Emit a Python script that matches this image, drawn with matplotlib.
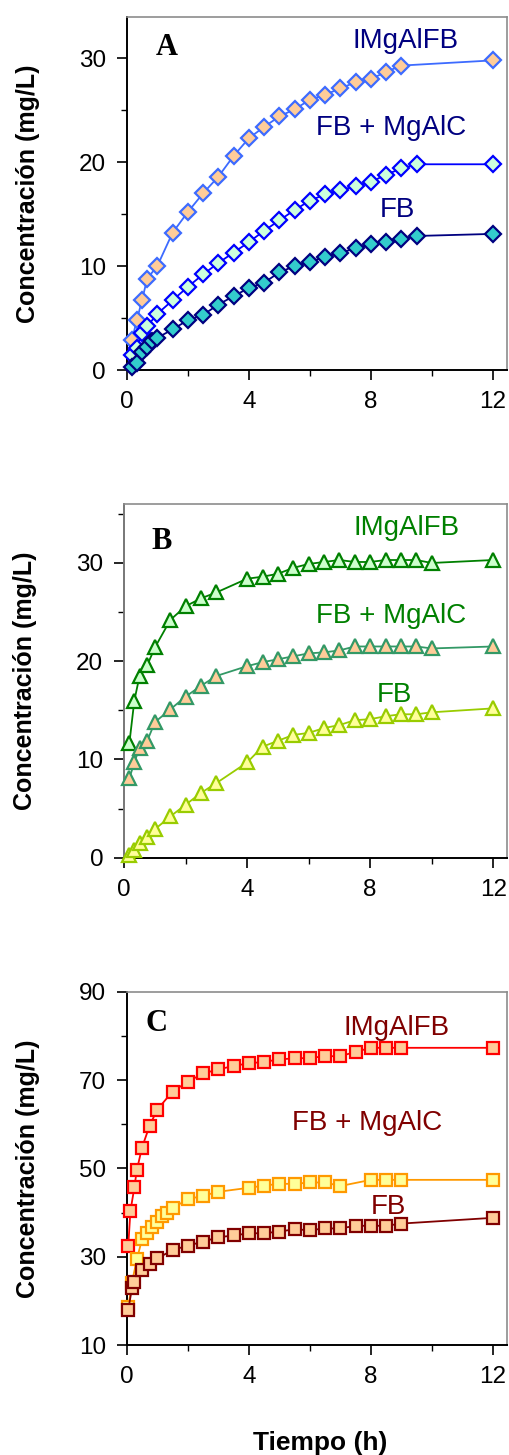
import matplotlib
matplotlib.use("Agg")
import matplotlib.pyplot as plt
from matplotlib.ticker import MultipleLocator

plt.rcParams['font.family'] = ['Liberation Sans', 'DejaVu Sans']

# Panel A (diamonds)
tA_imgal = [0.17, 0.33, 0.5, 0.67, 1, 1.5, 2, 2.5, 3, 3.5, 4, 4.5, 5, 5.5, 6, 6.5, 7, 7.5, 8, 8.5, 9, 12]
cA_imgal = [2.9, 4.8, 6.7, 8.8, 10.0, 13.2, 15.2, 17.0, 18.6, 20.6, 22.3, 23.4, 24.4, 25.1, 26.0, 26.5, 27.1, 27.7, 28.0, 28.7, 29.3, 29.8]
tA_mix = [0.17, 0.33, 0.5, 0.67, 1, 1.5, 2, 2.5, 3, 3.5, 4, 4.5, 5, 5.5, 6, 6.5, 7, 7.5, 8, 8.5, 9, 9.5, 12]
cA_mix = [1.45, 2.1, 3.6, 4.2, 5.4, 6.7, 8.0, 9.2, 10.3, 11.3, 12.3, 13.4, 14.4, 15.4, 16.3, 16.9, 17.3, 17.7, 18.1, 18.8, 19.4, 19.8, 19.8]
tA_fb = [0.17, 0.33, 0.5, 0.67, 0.83, 1, 1.5, 2, 2.5, 3, 3.5, 4, 4.5, 5, 5.5, 6, 6.5, 7, 7.5, 8, 8.5, 9, 9.5, 12]
cA_fb = [0.3, 0.7, 1.7, 2.2, 2.8, 3.1, 3.9, 4.8, 5.3, 6.3, 7.1, 7.9, 8.4, 9.4, 10.0, 10.4, 10.9, 11.3, 11.7, 12.1, 12.3, 12.6, 12.9, 13.1]

# Panel B (triangles)
tB = [0.17, 0.33, 0.5, 0.75, 1, 1.5, 2, 2.5, 3, 4, 4.5, 5, 5.5, 6, 6.5, 7, 7.5, 8, 8.5, 9, 9.5, 10, 12]
cB_imgal = [11.7, 16.0, 18.5, 19.6, 21.4, 24.2, 25.6, 26.4, 27.0, 28.4, 28.6, 28.9, 29.5, 29.9, 30.1, 30.3, 30.1, 30.1, 30.3, 30.3, 30.3, 30.0, 30.3]
cB_mix = [8.1, 9.7, 11.2, 11.9, 13.8, 15.1, 16.4, 17.5, 18.5, 19.5, 19.9, 20.2, 20.5, 20.8, 20.9, 21.1, 21.5, 21.5, 21.5, 21.5, 21.5, 21.3, 21.5]
cB_fb = [0.3, 0.8, 1.5, 2.1, 2.9, 4.2, 5.4, 6.6, 7.6, 9.7, 11.3, 11.9, 12.5, 12.7, 13.2, 13.5, 14.0, 14.1, 14.4, 14.6, 14.6, 14.8, 15.2]

# Panel C (squares)
tC_imgal = [0.05, 0.12, 0.25, 0.33, 0.5, 0.75, 1, 1.5, 2, 2.5, 3, 3.5, 4, 4.5, 5, 5.5, 6, 6.5, 7, 7.5, 8, 8.5, 9, 12]
cC_imgal = [32.5, 40.3, 45.7, 49.6, 54.7, 59.7, 63.3, 67.4, 69.6, 71.5, 72.4, 73.2, 73.8, 74.1, 74.7, 74.9, 75.0, 75.4, 75.4, 76.4, 77.3, 77.3, 77.3, 77.3]
tC_mix = [0.05, 0.17, 0.33, 0.5, 0.67, 0.83, 1, 1.17, 1.33, 1.5, 2, 2.5, 3, 4, 4.5, 5, 5.5, 6, 6.5, 7, 8, 8.5, 9, 12]
cC_mix = [18.5, 24.1, 29.4, 33.9, 35.3, 36.8, 37.9, 39.1, 40.0, 41.0, 43.0, 43.8, 44.7, 45.6, 46.1, 46.5, 46.5, 46.8, 46.8, 46.0, 47.4, 47.4, 47.4, 47.4]
tC_fb = [0.05, 0.17, 0.25, 0.5, 0.75, 1, 1.5, 2, 2.5, 3, 3.5, 4, 4.5, 5, 5.5, 6, 6.5, 7, 7.5, 8, 8.5, 9, 12]
cC_fb = [18.0, 22.8, 24.3, 27.0, 28.3, 29.6, 31.5, 32.5, 33.4, 34.4, 34.8, 35.3, 35.3, 35.7, 36.2, 36.0, 36.4, 36.4, 37.0, 37.0, 37.0, 37.5, 38.8]

series_labels = ["IMgAlFB", "FB + MgAlC", "FB"]


def style_axis(ax, ylim, ymajor, yminor, yoffset=0, left_color='black'):
    ax.set_xlim(0, 12.45)
    ax.set_ylim(*ylim)
    ax.xaxis.set_major_locator(MultipleLocator(4))
    ax.xaxis.set_minor_locator(MultipleLocator(2))
    ax.yaxis.set_major_locator(MultipleLocator(ymajor, offset=yoffset))
    ax.yaxis.set_minor_locator(MultipleLocator(yminor))
    ax.tick_params(which='both', direction='out', labelsize=17.5, top=False, right=False)
    ax.tick_params(which='major', length=7, width=1.2)
    ax.tick_params(which='minor', length=4, width=1.0)
    ax.tick_params(axis='x', pad=8)
    ax.tick_params(axis='y', pad=8)
    for s in ['top', 'right']:
        ax.spines[s].set_color('#8c8c8c')
        ax.spines[s].set_linewidth(1.2)
    ax.spines['left'].set_color(left_color)
    ax.spines['left'].set_linewidth(1.4)
    ax.spines['bottom'].set_linewidth(1.4)
    ax.set_ylabel("Concentración (mg/L)", fontsize=18, fontweight='bold')
    ax.yaxis.set_label_coords(-0.229, 0.5)


def draw(ax, t, c, marker, line, face, ms):
    ax.plot(t, c, color=line, lw=1.3, marker=marker, ms=ms, mfc=face, mec=line,
            mew=1.6, clip_on=False, zorder=3)


fig = plt.figure(figsize=(5.09, 14.55), dpi=100)

axA = fig.add_axes([0.249, 0.7457, 0.7465, 0.2428])
axB = fig.add_axes([0.244, 0.4105, 0.752, 0.2431])
axC = fig.add_axes([0.249, 0.0756, 0.7465, 0.2428])

# A
draw(axA, tA_imgal, cA_imgal, 'D', '#3d6bff', '#ffcc99', 8)
draw(axA, tA_mix, cA_mix, 'D', '#0000ff', '#ccffdd', 8)
draw(axA, tA_fb, cA_fb, 'D', '#000080', '#33cccc', 8)
style_axis(axA, (0, 34), 10, 5)
for (x, y), s in zip([(9.14, 31.7), (8.65, 23.3), (8.86, 15.4)], series_labels):
    axA.text(x, y, s, color='#000080', fontsize=20, ha='center', va='center')
axA.text(1.3, 31.0, "A", family=['Liberation Serif'], fontweight='bold', fontsize=22,
         ha='center', va='center')

# B
draw(axB, tB, cB_imgal, '^', '#008000', '#ccffcc', 10)
draw(axB, tB, cB_mix, '^', '#339966', '#ffcc99', 10)
draw(axB, tB, cB_fb, '^', '#99cc00', '#ffff99', 10)
style_axis(axB, (0, 36), 10, 5, left_color='#777777')
for (x, y), s in zip([(9.18, 33.6), (8.68, 24.6), (8.79, 16.6)], series_labels):
    axB.text(x, y, s, color='#008000', fontsize=20, ha='center', va='center')
axB.text(1.22, 32.2, "B", family=['Liberation Serif'], fontweight='bold', fontsize=22,
         ha='center', va='center')

# C
draw(axC, tC_imgal, cC_imgal, 's', '#ff0000', '#ffcc99', 9)
draw(axC, tC_mix, cC_mix, 's', '#ff9900', '#ffff99', 9)
draw(axC, tC_fb, cC_fb, 's', '#800000', '#ffcc99', 9)
style_axis(axC, (10, 90), 20, 10, yoffset=10)
for (x, y), s in zip([(8.83, 81.7), (7.88, 60.3), (8.57, 41.3)], series_labels):
    axC.text(x, y, s, color='#800000', fontsize=20, ha='center', va='center')
axC.text(0.98, 82.8, "C", family=['Liberation Serif'], fontweight='bold', fontsize=22,
         ha='center', va='center')

fig.text(0.63, 0.0082, "Tiempo (h)", fontsize=19, fontweight='bold', ha='center', va='center')

fig.savefig("out.png", dpi=100)
plt.close(fig)
